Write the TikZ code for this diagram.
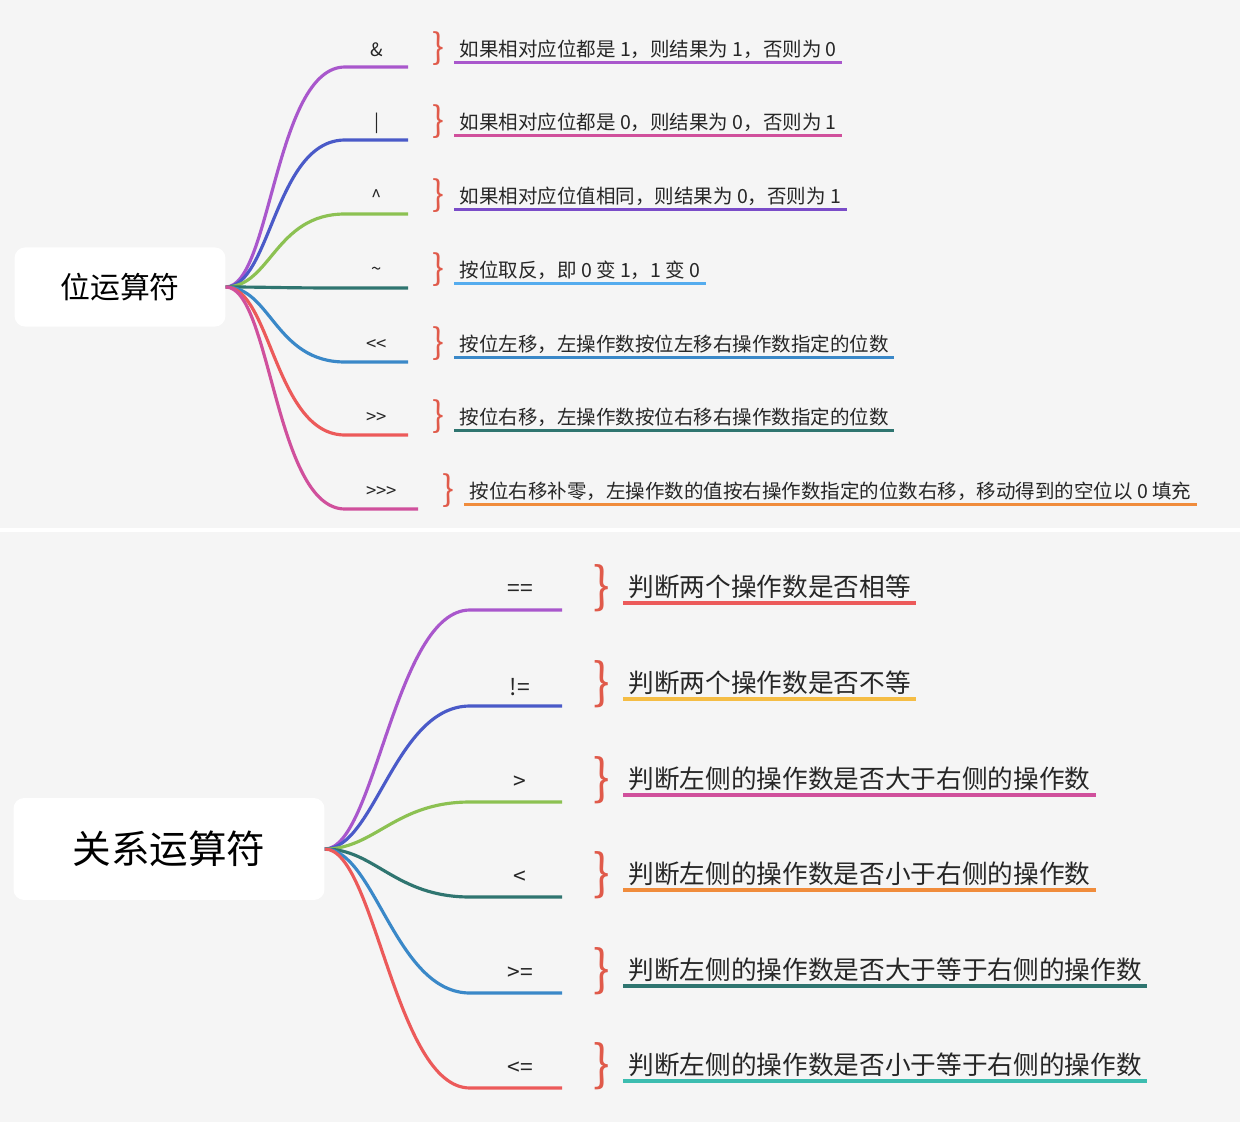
\documentclass[tikz,border=0pt]{standalone}
\usepackage{fontspec}
\setmainfont{Noto Sans CJK SC}
\usetikzlibrary{positioning,calc}
\definecolor{cPurple}{HTML}{A957CC}
\definecolor{cIndigo}{HTML}{4A5AC8}
\definecolor{cGreen}{HTML}{8CC152}
\definecolor{cTeal}{HTML}{2F7570}
\definecolor{cBlue}{HTML}{3A88C8}
\definecolor{cRed}{HTML}{EC5A5A}
\definecolor{cPink}{HTML}{D0509C}
\definecolor{cViolet}{HTML}{7A4CC8}
\definecolor{cSky}{HTML}{55ACEE}
\definecolor{cOrange}{HTML}{F08C3C}
\definecolor{cYellow}{HTML}{F5BD45}
\definecolor{cTurq}{HTML}{3DBDB0}
\definecolor{cBrace}{HTML}{E05A4A}
\begin{document}
\begin{tikzpicture}[x=0.02cm, y=-0.02cm,
  root/.style={fill=white, rounded corners=6pt, inner sep=0pt},
  op/.style={font=\fontsize{10.5}{12}\selectfont, text=black!85},
  desc/.style={anchor=west, inner xsep=3pt, inner ysep=2pt, text=black!85},
  brace/.style={text=cBrace, font=\fontsize{20}{20}\selectfont},
  branch/.style={line width=1.8pt}]
\fill[black!4] (0,0) rectangle (1240,1122);
\useasboundingbox (0,0) rectangle (1240,1122);
\draw[white, line width=2pt] (0,530) -- (1240,530);
% bit operators
\node[root, minimum width=120pt, minimum height=45pt, font=\fontsize{17}{20}\selectfont] (bit) at (120,287) {位运算符};
\foreach \y/\sx/\ex/\op/\bc/\uc/\txt [count=\i] in {
  67/345/408/{\&}/cPurple/cPurple/{如果相对应位都是 1，则结果为 1，否则为 0},
  140/345/408/{|}/cIndigo/cPink/{如果相对应位都是 0，则结果为 0，否则为 1},
  214/345/408/{\^{}}/cGreen/cViolet/{如果相对应位值相同，则结果为 0，否则为 1},
  288/345/408/{\textasciitilde}/cTeal/cSky/{按位取反，即 0 变 1，1 变 0},
  362/345/408/{{<}\kern0pt{<}}/cBlue/cBlue/{按位左移，左操作数按位左移右操作数指定的位数},
  435/345/408/{{>}\kern0pt{>}}/cRed/cTeal/{按位右移，左操作数按位右移右操作数指定的位数},
  509/345/418/{{>}\kern0pt{>}\kern0pt{>}}/cPink/cOrange/{按位右移补零，左操作数的值按右操作数指定的位数右移，移动得到的空位以 0 填充}}
{
  \coordinate (bs\i) at (\sx,\y);
  \coordinate (be\i) at (\ex,\y);
  \draw[branch, \bc] (bit.east) .. controls +(45,0) and +(-70,0) .. (bs\i) -- (be\i);
  \node[op] (bo\i) at ($(bs\i)!0.5!(be\i)+(0,-17)$) {\op};
  \node[brace] (bb\i) at (\ex+30,\y-18) {\}};
  \node[desc, font=\fontsize{11.1}{13}\selectfont] (bt\i) at (\ex+46,\y-18) {\txt};
  \draw[line width=1.8pt, \uc] (bt\i.south west) -- (bt\i.south east);
}
% relational operators
\node[root, minimum width=177pt, minimum height=58pt, font=\fontsize{22}{26}\selectfont] (rel) at (169,849) {关系运算符};
\foreach \y/\op/\bc/\uc/\txt [count=\i] in {
  610/{==}/cPurple/cRed/{判断两个操作数是否相等},
  706/{!=}/cIndigo/cYellow/{判断两个操作数是否不等},
  802/{>}/cGreen/cPink/{判断左侧的操作数是否大于右侧的操作数},
  897/{<}/cTeal/cOrange/{判断左侧的操作数是否小于右侧的操作数},
  993/{{>}=}/cBlue/cTeal/{判断左侧的操作数是否大于等于右侧的操作数},
  1088/{{<}=}/cRed/cTurq/{判断左侧的操作数是否小于等于右侧的操作数}}
{
  \coordinate (rs\i) at (470,\y);
  \coordinate (re\i) at (562,\y);
  \draw[branch, \bc] (rel.east) .. controls +(50,0) and +(-75,0) .. (rs\i) -- (re\i);
  \node[op, font=\fontsize{13}{15}\selectfont] (ro\i) at (520,\y-19) {\op};
  \node[brace, font=\fontsize{28}{28}\selectfont] (rb\i) at (602,\y-22) {\}};
  \node[desc, font=\fontsize{14.6}{17}\selectfont] (rt\i) at (623,\y-23) {\txt};
  \draw[line width=2pt, \uc] (rt\i.south west) -- (rt\i.south east);
}
\end{tikzpicture}
\end{document}
